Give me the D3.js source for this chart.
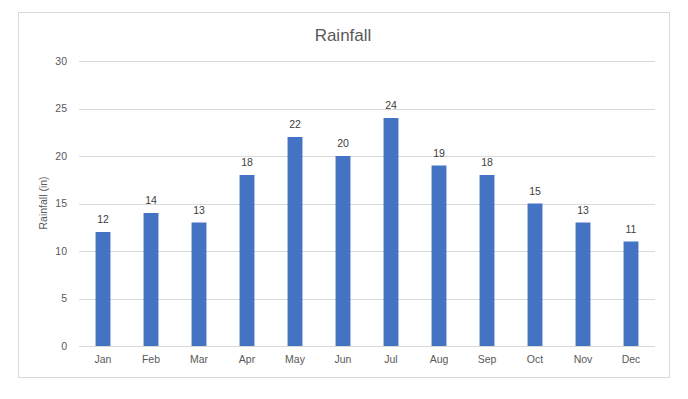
<!DOCTYPE html>
<meta charset="utf-8">
<style>
    body { margin: 0; background: #fff; overflow: hidden; }
    text { font-family: "Liberation Sans", "DejaVu Sans", sans-serif; }
</style>
<svg id="canvas" width="688" height="399"></svg>
<script src="https://d3js.org/d3.v7.min.js"></script>
<script>

    var months = ["Jan", "Feb", "Mar", "Apr", "May", "Jun", "Jul", "Aug", "Sep", "Oct", "Nov", "Dec"];
    var rainfall = [12, 14, 13, 18, 22, 20, 24, 19, 18, 15, 13, 11];
    var yTicks = [0, 5, 10, 15, 20, 25, 30];

    var svg = d3.select("#canvas");

    // chart frame
    svg.append("rect")
       .attr("x", 18.5).attr("y", 12.5)
       .attr("width", 651).attr("height", 365)
       .attr("fill", "#fff")
       .attr("stroke", "#d9d9d9");

    var x = d3.scaleBand().domain(months).range([79, 655]).paddingInner(0.69).paddingOuter(0.345);
    var y = d3.scaleLinear().domain([0, 30]).range([346, 61]);

    // gridlines
    svg.append("g")
       .selectAll("line")
       .data(yTicks)
       .enter().append("line")
       .attr("x1", 79).attr("x2", 655)
       .attr("y1", function(d) { return Math.round(y(d)) + 0.5; })
       .attr("y2", function(d) { return Math.round(y(d)) + 0.5; })
       .attr("stroke", "#d9d9d9");

    // y axis labels
    var yAxis = svg.append("g")
                   .attr("transform", "translate(67,0)")
                   .call(d3.axisLeft(y).tickValues(yTicks).tickSize(0).tickPadding(0));
    yAxis.select(".domain").remove();
    yAxis.selectAll("text").attr("font-size", 10.5).attr("fill", "#595959");

    // x axis labels
    var xAxis = svg.append("g")
                   .attr("transform", "translate(0,356)")
                   .call(d3.axisBottom(x).tickSize(0).tickPadding(0));
    xAxis.select(".domain").remove();
    xAxis.selectAll("text").attr("font-size", 10.5).attr("fill", "#595959");

    // bars
    svg.append("g")
       .selectAll("rect")
       .data(rainfall)
       .enter().append("rect")
       .attr("x", function(d, i) { return x(months[i]); })
       .attr("width", x.bandwidth())
       .attr("y", function(d) { return y(d); })
       .attr("height", function(d) { return y(0) - y(d); })
       .attr("fill", "#4472c4");

    // data labels
    svg.append("g")
       .selectAll("text")
       .data(rainfall)
       .enter().append("text")
       .attr("x", function(d, i) { return x(months[i]) + x.bandwidth() / 2; })
       .attr("y", function(d) { return y(d) - 9; })
       .attr("text-anchor", "middle")
       .attr("font-size", 10.5)
       .attr("fill", "#404040")
       .text(function(d) { return d; });

    // title
    svg.append("text")
       .attr("x", 343).attr("y", 41)
       .attr("text-anchor", "middle")
       .attr("font-size", 17)
       .attr("fill", "#595959")
       .text("Rainfall");

    // y axis title
    svg.append("text")
       .attr("transform", "translate(47,203) rotate(-90)")
       .attr("text-anchor", "middle")
       .attr("font-size", 10.5)
       .attr("fill", "#595959")
       .text("Rainfall (in)");

</script>
